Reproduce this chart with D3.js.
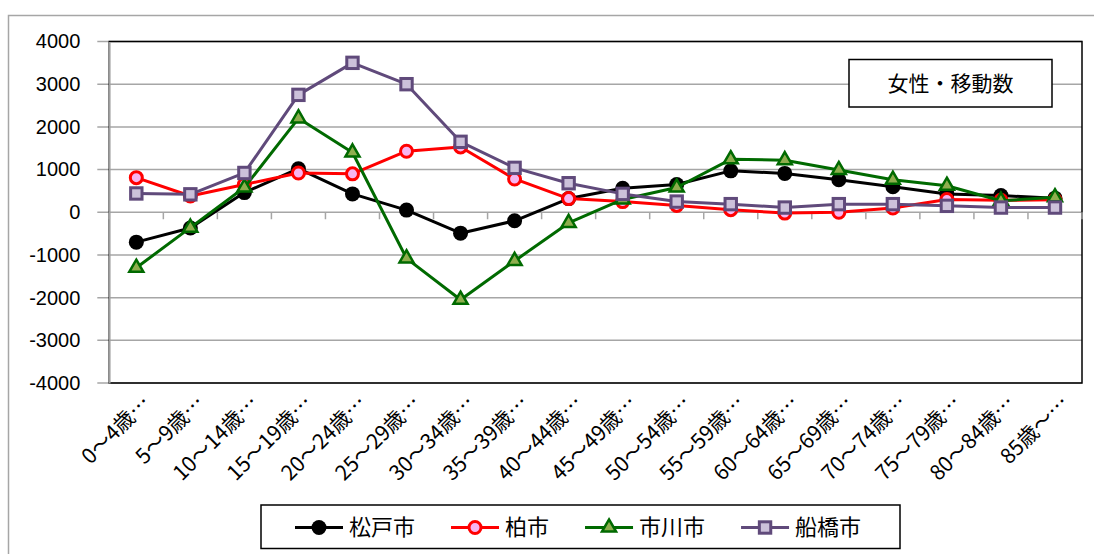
<!DOCTYPE html>
<html>
<head>
<meta charset="utf-8">
<script src="https://cdn.jsdelivr.net/npm/d3@7"></script>
<style>
  body { margin: 0; background: #fff; }
  svg { display: block; }
  text { font-family: "Liberation Sans", Arial, sans-serif; fill: #000; }
  .jp { font-family: "Noto Sans CJK JP", "Noto Sans", sans-serif; }
</style>
</head>
<body>
<div id="chart"></div>
<script>
// 年齢階級
const categories = ["0～4歳…", "5～9歳…", "10～14歳…", "15～19歳…", "20～24歳…", "25～29歳…",
  "30～34歳…", "35～39歳…", "40～44歳…", "45～49歳…", "50～54歳…", "55～59歳…",
  "60～64歳…", "65～69歳…", "70～74歳…", "75～79歳…", "80～84歳…", "85歳～…"];

// 各市の移動数（女性）
const matsudo   = [-700, -370, 460, 1020, 430, 50, -490, -200, 320, 560, 650, 970, 910, 760, 600, 430, 390, 330];
const kashiwa   = [810, 380, 650, 920, 900, 1430, 1530, 780, 320, 250, 160, 60, -20, 0, 100, 300, 280, 290];
const ichikawa  = [-1300, -360, 580, 2200, 1400, -1080, -2050, -1140, -250, 300, 580, 1240, 1220, 990, 760, 620, 270, 350];
const funabashi = [440, 420, 920, 2750, 3500, 3000, 1650, 1040, 680, 430, 250, 190, 110, 190, 190, 150, 110, 110];

const yTicks = [-4000, -3000, -2000, -1000, 0, 1000, 2000, 3000, 4000];
const chartTitle = "女性・移動数";

const series = [
  { name: "松戸市", values: matsudo,   line: "#000000", fill: "#000000", stroke: "#000000", shape: "circle" },
  { name: "柏市",   values: kashiwa,   line: "#ff0000", fill: "#f7b5f0", stroke: "#ff0000", shape: "ring" },
  { name: "市川市", values: ichikawa,  line: "#006a00", fill: "#8fae4e", stroke: "#006a00", shape: "triangle" },
  { name: "船橋市", values: funabashi, line: "#604a7b", fill: "#ccc1da", stroke: "#604a7b", shape: "square" }
];

const W = 1094, H = 554;
const plot = { left: 109.3, right: 1082, top: 41.5, bottom: 383 };

const svg = d3.select("#chart").append("svg")
  .attr("width", W).attr("height", H);

// 外枠
svg.append("rect")
  .attr("x", 8.5).attr("y", 15.5)
  .attr("width", W + 20).attr("height", H + 20)
  .attr("fill", "#fff").attr("stroke", "#a6a6a6").attr("stroke-width", 1.5);

const x = d3.scaleBand().domain(categories).range([plot.left, plot.right]);
const y = d3.scaleLinear().domain([-4000, 4000]).range([plot.bottom, plot.top]);

// グリッド線
svg.append("g").selectAll("line")
  .data(yTicks)
  .join("line")
  .attr("x1", plot.left - 12).attr("x2", plot.right)
  .attr("y1", d => y(d)).attr("y2", d => y(d))
  .attr("stroke", "#a6a6a6").attr("stroke-width", 1.5);

// プロットエリア枠
svg.append("rect")
  .attr("x", plot.left).attr("y", plot.top)
  .attr("width", plot.right - plot.left).attr("height", plot.bottom - plot.top)
  .attr("fill", "none").attr("stroke", "#000").attr("stroke-width", 1.5);

// Y軸
const yAxis = svg.append("g")
  .attr("transform", `translate(${plot.left},0)`)
  .call(d3.axisLeft(y).tickValues(yTicks).tickSize(0).tickPadding(29).tickFormat(d => String(d)));
yAxis.select(".domain").attr("stroke", "#a6a6a6").attr("stroke-width", 1.5);
yAxis.selectAll("text").attr("font-size", 20).attr("font-family", "Liberation Sans, Arial, sans-serif");

// 0 の軸と目盛
const boundaries = categories.map(c => x(c)).concat([plot.right]);
svg.append("g").selectAll("line")
  .data(boundaries)
  .join("line")
  .attr("x1", d => d).attr("x2", d => d)
  .attr("y1", y(0)).attr("y2", y(0) + 7)
  .attr("stroke", "#a6a6a6").attr("stroke-width", 1.5);

// X ラベル
svg.append("g").selectAll("text")
  .data(categories)
  .join("text")
  .attr("class", "jp")
  .attr("transform", d => `translate(${x(d) + x.bandwidth() / 2 + 10},${plot.bottom + 16}) rotate(-45)`)
  .attr("text-anchor", "end")
  .attr("dy", "0.35em")
  .attr("font-size", 21)
  .text(d => d);

// マーカー
function drawMarker(g, s, size) {
  if (s.shape === "circle") {
    g.append("circle").attr("r", size * 0.5).attr("fill", s.fill);
  } else if (s.shape === "ring") {
    g.append("circle").attr("r", size * 0.4).attr("fill", s.fill)
      .attr("stroke", s.stroke).attr("stroke-width", 3);
  } else if (s.shape === "triangle") {
    g.append("path").attr("d", d3.symbol(d3.symbolTriangle, size * size * 0.38)())
      .attr("fill", s.fill).attr("stroke", s.stroke).attr("stroke-width", 2.5)
      .attr("stroke-linejoin", "miter");
  } else {
    g.append("rect").attr("x", -size * 0.38).attr("y", -size * 0.38)
      .attr("width", size * 0.76).attr("height", size * 0.76)
      .attr("fill", s.fill).attr("stroke", s.stroke).attr("stroke-width", 3);
  }
}

const line = d3.line()
  .x((d, i) => x(categories[i]) + x.bandwidth() / 2)
  .y(d => y(d));

series.forEach(s => {
  const g = svg.append("g");
  g.append("path")
    .attr("d", line(s.values))
    .attr("fill", "none").attr("stroke", s.line).attr("stroke-width", 3)
    .attr("stroke-linejoin", "round");
  s.values.forEach((v, i) => {
    const m = g.append("g")
      .attr("transform", `translate(${x(categories[i]) + x.bandwidth() / 2},${y(v)})`);
    drawMarker(m, s, 15);
  });
});

// タイトルボックス
const tb = svg.append("g");
tb.append("rect")
  .attr("x", 849).attr("y", 59.5).attr("width", 203).attr("height", 47.5)
  .attr("fill", "#fff").attr("stroke", "#000").attr("stroke-width", 1.5);
tb.append("text").attr("class", "jp")
  .attr("x", 950.5).attr("y", 83.5).attr("dy", "0.36em")
  .attr("text-anchor", "middle").attr("font-size", 21)
  .text(chartTitle);

// 凡例
const lg = svg.append("g");
lg.append("rect")
  .attr("x", 261).attr("y", 505).attr("width", 639).attr("height", 43.5)
  .attr("fill", "#fff").attr("stroke", "#000").attr("stroke-width", 1.5);
let lx = 295;
series.forEach(s => {
  const item = lg.append("g").attr("transform", `translate(${lx},527.5)`);
  item.append("line").attr("x1", 0).attr("x2", 48).attr("stroke", s.line).attr("stroke-width", 3);
  const m = item.append("g").attr("transform", "translate(24,0)");
  drawMarker(m, s, 15);
  const t = item.append("text").attr("class", "jp")
    .attr("x", 54).attr("dy", "0.36em").attr("font-size", 22)
    .text(s.name);
  lx += 54 + t.node().getComputedTextLength() + 36;
});
</script>
</body>
</html>
